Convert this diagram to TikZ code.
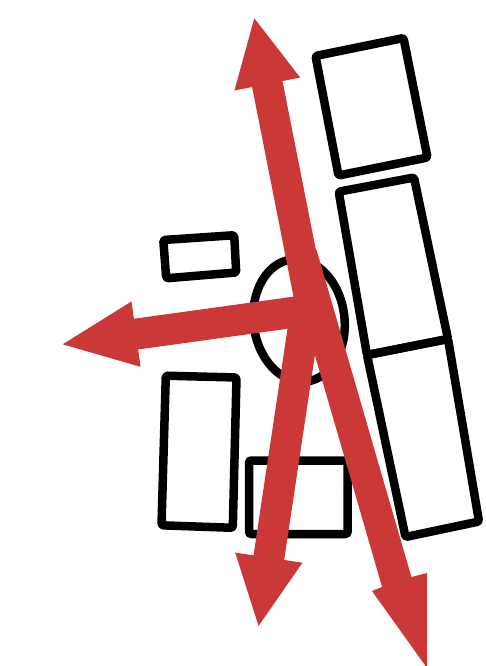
\documentclass[tikz,border=0pt]{standalone}
\usetikzlibrary{calc}
\definecolor{arrowred}{RGB}{202,56,56}
\tikzset{
  block/.style={draw=black, line width=8.5pt, line join=round, rounded corners=1.5pt},
  fatred/.style={fill=arrowred, draw=none},
}
% #1 start, #2 tip, #3 half shaft width, #4 half head width, #5 head length
\newcommand\fatarrow[5]{%
  \coordinate (fab) at ($(#2)!#5!(#1)$);
  \fill[fatred] ($(#1)!#3!90:(#2)$) -- ($(fab)!#3!90:(#2)$) -- ($(fab)!#4!90:(#2)$) -- (#2)
    -- ($(fab)!#4!-90:(#2)$) -- ($(fab)!#3!-90:(#2)$) -- ($(#1)!#3!-90:(#2)$) -- cycle;}
\begin{document}
\begin{tikzpicture}[x=1pt,y=-1pt]
\useasboundingbox (0,0) rectangle (485,666);
\fill[white] (0,0) rectangle (485,666);
% black outlines
\draw[block] (315.5,56) -- (403.5,38) -- (427.5,157.5) -- (338.5,175.5) -- cycle;
\draw[block] (338.7,191.7) -- (414,177.5) -- (448,339) -- (367,355) -- cycle;
\draw[block] (367,355) -- (448,339) -- (479,521.5) -- (405.5,537) -- cycle;
\draw[block] (163.3,240) -- (234.2,235.2) -- (236.2,272.5) -- (166.2,278.3) -- cycle;
\draw[block] (165.8,375.7) -- (236.5,377.5) -- (232.8,527.8) -- (161.5,525.3) -- cycle;
\draw[block] (249,460.5) -- (347.5,460.5) -- (347.5,534) -- (249,534) -- cycle;
\draw[block, rotate around={7:(299,320.5)}] (299,320.5) ellipse [x radius=45.5, y radius=61.5];
% red arrows
\coordinate (upS) at (310,300);   \coordinate (upT) at (254.3,18.3);
\coordinate (lfS) at (300,311.4); \coordinate (lfT) at (62.7,344.3);
\coordinate (dnS) at (307.5,300); \coordinate (dnT) at (258.6,625.9);
\fatarrow{upS}{upT}{15.5pt}{33.5pt}{67pt}
\fatarrow{lfS}{lfT}{15.5pt}{33pt}{74pt}
\fatarrow{dnS}{dnT}{15.5pt}{34pt}{69pt}
% down-right arrow (cut off by the frame)
\coordinate (drL) at (284.4,250); \coordinate (drR) at (316.6,250);
\coordinate (drNR) at (411.4,577); \coordinate (drCR) at (427,573);
\coordinate (drB) at (427,668);   \coordinate (drCL) at (372,591);
\coordinate (drNL) at (382.1,587);
\fill[fatred] (drL) -- (drR) -- (drNR) -- (drCR) -- (drB) -- (drCL) -- (drNL) -- cycle;
\end{tikzpicture}
\end{document}
